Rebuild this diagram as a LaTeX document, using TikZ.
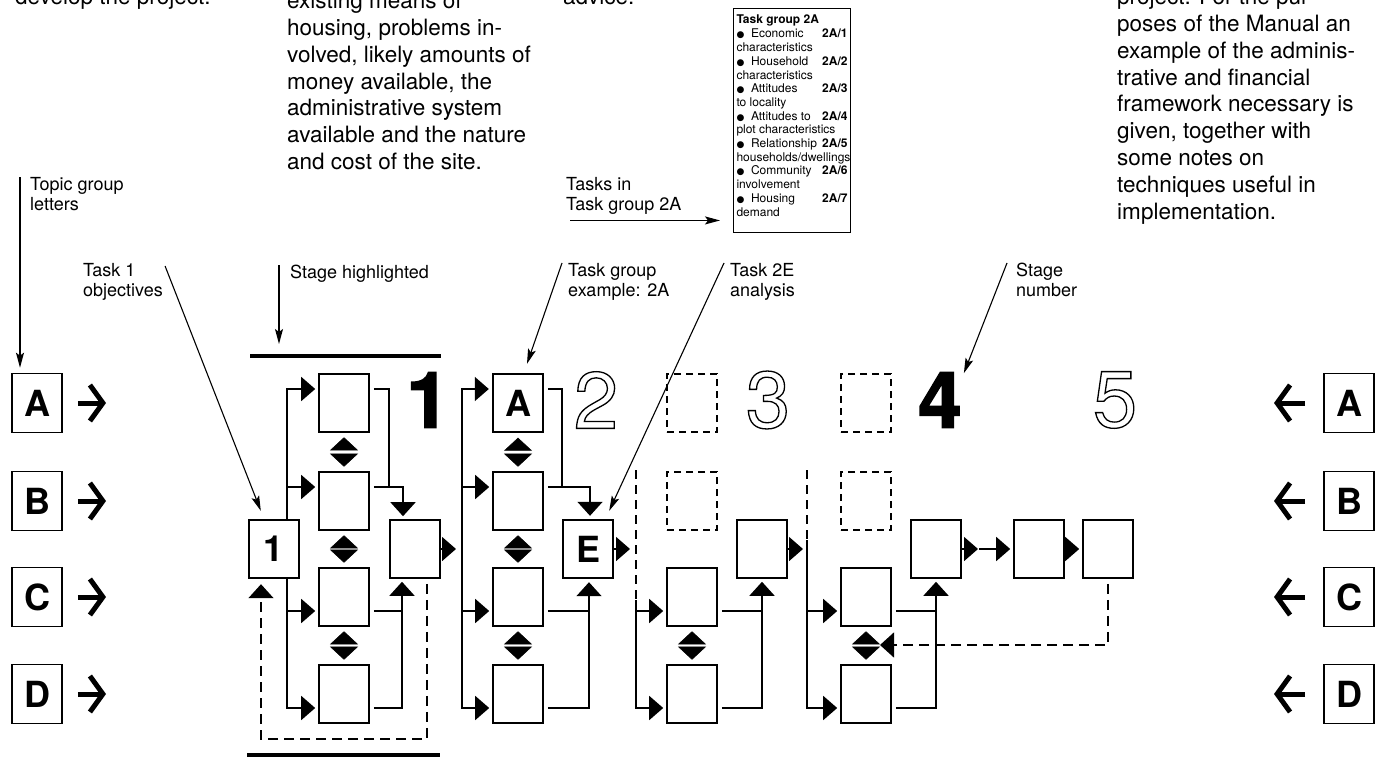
\documentclass[tikz,border=0pt]{standalone}
\usepackage{fontspec}
\setmainfont{TeX Gyre Heros}
\newfontfamily\heavyfont[BoldFeatures={FakeBold=2}]{TeX Gyre Heros}
\newfontfamily\symfont{DejaVu Sans}
\usetikzlibrary{arrows.meta,calc}

\newcommand{\hollow}[1]{\special{pdf:literal direct 1 Tr 1.3 w}#1\special{pdf:literal direct 0 Tr}}
\newcommand{\itm}{{\symfont\fontsize{9}{10}\selectfont ●}\ \ }

\tikzset{
  task/.style={draw, line width=1.6pt, minimum width=50pt, minimum height=58pt, inner sep=0pt,
    font=\fontsize{36}{36}\selectfont\bfseries},
  keytask/.style={task, line width=2.4pt},
  ghost/.style={task, line width=1.4pt, dash pattern=on 7pt off 5pt},
  letterbox/.style={task, minimum height=59pt},
  wire/.style={line width=1.6pt, shorten <=4pt},
  feed/.style={line width=1.6pt, shorten >=3pt, -{Triangle[length=14pt,width=24pt]}},
  gather/.style={wire, shorten >=3pt, -{Triangle[length=14pt,width=25pt]}},
  bidir/.style={white, line width=0.5pt, shorten <=4.5pt, shorten >=4.5pt,
    {Triangle[color=black,length=13pt,width=28pt]}-{Triangle[color=black,length=13pt,width=28pt]}},
  back/.style={line width=1.6pt, dash pattern=on 10pt off 6pt, shorten <=5pt, shorten >=5pt,
    -{Triangle[length=14pt,width=25pt]}},
  sepline/.style={line width=1.6pt, dash pattern=on 9pt off 6pt},
  bar/.style={line width=4.5pt},
  bigarrow/.style={line width=5pt, -{Straight Barb[length=13pt,width=36pt,line width=5pt]}},
  note/.style={line width=1.1pt, -{Stealth[length=15pt,width=8pt,inset=3pt]}},
  lbl/.style={anchor=north west, inner sep=0pt, align=left, font=\fontsize{18}{20}\selectfont},
  body/.style={anchor=north west, inner sep=0pt, align=left, font=\fontsize{22.5}{26.8}\selectfont},
  heavy/.style={inner sep=0pt, font={\heavyfont\fontsize{78}{78}\selectfont\bfseries}},
  hollownum/.style={inner sep=0pt, font=\fontsize{80}{80}\selectfont},
  tgbox/.style={draw, line width=1pt, inner sep=3pt, anchor=north west, font=\fontsize{12}{13.7}\selectfont}
}

\begin{document}
\begin{tikzpicture}[x=1pt,y=-1pt]
\useasboundingbox (0,0) rectangle (1381,757);

\node[body] (txtL) at (15,-12) {develop the project.};
\node[body] (txtM) at (287,-8) {existing means of\\housing, problems in-\\volved, likely amounts of\\money available, the\\administrative system\\available and the nature\\and cost of the site.};
\node[body] (txtA) at (563,-12) {advice.};
\node[body] (txtR) at (1117,-12) {project. For the pur-\\poses of the Manual an\\example of the adminis-\\trative and financial\\framework necessary is\\given, together with\\some notes on\\techniques useful in\\implementation.};

\node[tgbox] (tg) at (733,8) {\parbox[t][218pt][t]{111pt}{\vspace*{3pt}\textbf{Task group 2A}\\[1pt]
  \itm Economic\hfill\textbf{2A/1}\\characteristics\\
  \itm Household\hfill\textbf{2A/2}\\characteristics\\
  \itm Attitudes\hfill\textbf{2A/3}\\to locality\\
  \itm Attitudes to\hfill\textbf{2A/4}\\plot characteristics\\
  \itm Relationship\hfill\textbf{2A/5}\\households/dwellings\\
  \itm Community\hfill\textbf{2A/6}\\involvement\\
  \itm Housing\hfill\textbf{2A/7}\\demand}};

\node[lbl] (topic) at (30,177) {Topic group\\letters};
\node[lbl] (tsk) at (566,177) {Tasks in\\Task group 2A};
\node[lbl] (obj) at (83,263) {Task 1\\objectives};
\node[lbl] (stg) at (290,265) {Stage highlighted};
\node[lbl] (grp) at (568,263) {Task group\\example: 2A};
\node[lbl] (ana) at (730,263) {Task 2E\\analysis};
\node[lbl] (num) at (1016,263) {Stage\\number};

\foreach \r/\y in {A/403,B/501,C/597,D/694} {
  \node[letterbox] (l\r) at (37,\y) {\r};
  \node[letterbox] (r\r) at (1349,\y) {\r};
  \coordinate (lt\r) at (106,\y);
  \coordinate (rt\r) at (1274,\y);
  \draw[bigarrow, shorten <=15pt] (l\r) -- (lt\r);
  \draw[bigarrow, shorten <=18pt] (r\r) -- (rt\r);
}

\node[keytask] (t1) at (274,549) {1};
\foreach \r/\y in {a/403,b/501,c/597,d/694} \node[task] (s1\r) at (344,\y) {};
\node[keytask] (s2a) at (518,403) {A};
\foreach \r/\y in {b/501,c/597,d/694} \node[task] (s2\r) at (518,\y) {};
\node[ghost] (s3a) at (692,403) {};
\node[ghost] (s3b) at (692,501) {};
\node[task] (s3c) at (692,597) {};
\node[task] (s3d) at (692,694) {};
\node[ghost] (s4a) at (866,403) {};
\node[ghost] (s4b) at (866,501) {};
\node[task] (s4c) at (866,597) {};
\node[task] (s4d) at (866,694) {};

\node[task] (o1) at (415,549) {};
\node[keytask] (o2) at (588,549) {E};
\node[task] (o3) at (762,549) {};
\node[task] (o4) at (936,549) {};
\node[task] (t5a) at (1039,549) {};
\node[task] (t5b) at (1108,549) {};

\node[heavy] (n1) at (428,400) {1};
\node[hollownum] (n2) at (596,400) {\hollow{2}};
\node[hollownum] (n3) at (768,400) {\hollow{3}};
\node[heavy] (n4) at (940,400) {4};
\node[hollownum] (n5) at (1115,400) {\hollow{5}};

\draw[bar] (250,356) -- (441,356);
\draw[bar] (247,755) -- (440,755);

\coordinate (f2) at (462,549);
\coordinate (f3) at (636,600);
\coordinate (f4) at (807,540);
\coordinate (d3) at (636,470);
\coordinate (d4) at (807,470);
\coordinate (m45) at (979,549);
\coordinate (fb4) at (880,645);
\coordinate (hl) at (279,344);

\foreach \r in {a,b} \draw[feed] ([xshift=13pt]t1.north) |- ([yshift=14pt]s1\r.west);
\foreach \r in {c,d} \draw[feed] ([xshift=13pt]t1.south) |- ([yshift=-14pt]s1\r.west);
\draw[feed, shorten >=6pt] (o1) -- (o1 -| f2);
\foreach \r in {a,b} \draw[feed] (f2) |- ([yshift=14pt]s2\r.west);
\foreach \r in {c,d} \draw[feed] (f2) |- ([yshift=-14pt]s2\r.west);
\draw[feed, shorten >=6pt] (o2) -- (o2 -| f3);
\draw[sepline] (d3) -- (f3);
\foreach \r in {c,d} \draw[feed] (f3) |- ([yshift=-14pt]s3\r.west);
\draw[feed, shorten >=4pt] (o3) -- (o3 -| f4);
\draw[sepline] (d4) -- (f4);
\foreach \r in {c,d} \draw[feed] (f4) |- ([yshift=-14pt]s4\r.west);
\draw[feed, shorten >=1pt] (o4) -- (m45);
\draw[feed] (m45) -- (t5a);
\draw[feed] (t5a) -- (t5b);

\draw[gather] ([yshift=14pt]s1a.east) -| ([yshift=14pt]s1b.east -| o1.west) -| ([xshift=-12pt]o1.north);
\draw[wire] ([yshift=14pt]s1b.east) -- ++(34,0);
\draw[gather] ([yshift=-14pt]s1d.east) -| ([xshift=-13pt]o1.south);
\draw[wire] ([yshift=-14pt]s1c.east) -- ++(33,0);
\draw[gather] ([yshift=14pt]s2a.east) -| ([yshift=14pt]s2b.east -| o2.west) -| ([xshift=2pt]o2.north);
\draw[wire] ([yshift=14pt]s2b.east) -- ++(47,0);
\draw[gather] ([yshift=-14pt]s2d.east) -| ([xshift=1pt]o2.south);
\draw[wire] ([yshift=-14pt]s2c.east) -- ++(46,0);
\draw[gather] ([yshift=-14pt]s3d.east) -| (o3.south);
\draw[wire] ([yshift=-14pt]s3c.east) -- ++(45,0);
\draw[gather] ([yshift=-14pt]s4d.east) -| (o4.south);
\draw[wire] ([yshift=-14pt]s4c.east) -- ++(45,0);

\foreach \p/\q in {s1a/s1b,s1b/s1c,s1c/s1d,s2a/s2b,s2b/s2c,s2c/s2d,s3c/s3d,s4c/s4d}
  \draw[bidir] (\p.south) -- (\q.north);

\draw[back] ([xshift=12pt]o1.south) -- ++(0,160) -| ([xshift=-13pt]t1.south);
\draw[back, shorten >=0pt] (t5b.south) |- (fb4);

\coordinate (tsk0) at ([shift={(4pt,-6pt)}]tsk.south west);
\draw[note] ([xshift=-10pt]topic.north west) -- ([shift={(-17pt,5pt)}]lA.north);
\draw[note, shorten >=13pt] (tsk0) -- (tsk0 -| tg.west);
\draw[note] ([shift={(2pt,-3pt)}]obj.north east) -- ([shift={(13pt,8pt)}]t1.north west);
\draw[note] ([xshift=-11pt]stg.north west) -- (hl);
\draw[note] ([xshift=-6pt]grp.north west) -- ([shift={(9pt,9pt)}]s2a.north);
\draw[note] ([xshift=-6pt]ana.north west) -- ([shift={(-5pt,8pt)}]o2.north east);
\draw[note] ([xshift=-9pt]num.north west) -- ([shift={(2pt,-1pt)}]n4.north east);
\end{tikzpicture}
\end{document}
